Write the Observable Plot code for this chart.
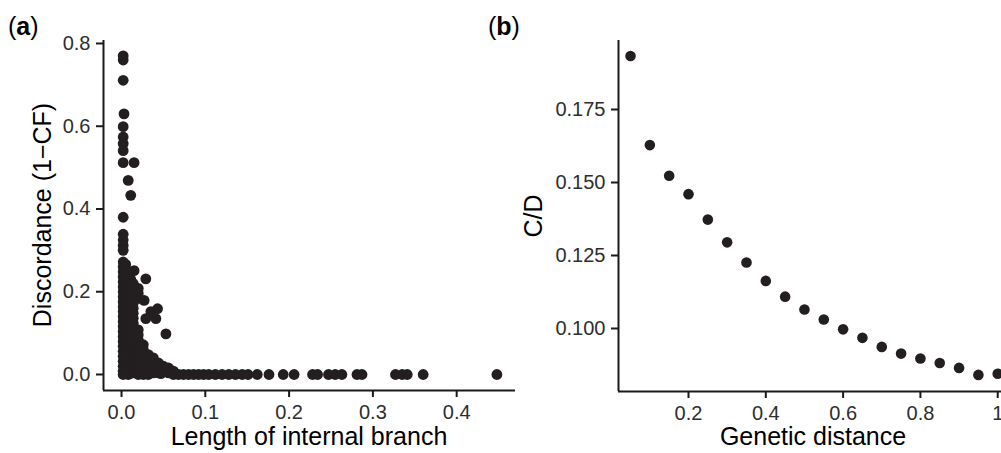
<!DOCTYPE html>
<html>
<head>
<meta charset="utf-8">
<script src="https://cdn.jsdelivr.net/npm/d3@7"></script>
<script src="https://cdn.jsdelivr.net/npm/@observablehq/plot@0.6"></script>
<style>
  html, body { margin: 0; padding: 0; background: #fff; overflow: hidden; }
  #wrap { position: relative; width: 1001px; height: 453px; overflow: hidden; font-family: 'Liberation Sans', Arial, sans-serif; color: #000; }
  .panel { position: absolute; top: 0; }
  .title { position: absolute; font-size: 25px; white-space: nowrap; line-height: 1; }
  .tag { position: absolute; font-size: 25px; line-height: 1; }
</style>
</head>
<body>
<div id="wrap"></div>
<script>
// ---------- Panel (a): discordance vs internal branch length ----------
const branchDiscordance = [
  [0.002,0.770],[0.002,0.760],[0.002,0.711],[0.003,0.630],[0.002,0.599],[0.002,0.574],[0.002,0.558],[0.002,0.541],
  [0.002,0.512],[0.015,0.512],[0.008,0.469],[0.011,0.433],[0.002,0.380],[0.002,0.339],[0.002,0.325],[0.002,0.312],[0.002,0.300],
  [0.002,0.272],[0.002,0.260],[0.002,0.248],[0.002,0.236],[0.002,0.224],[0.002,0.212],[0.002,0.200],[0.002,0.188],
  [0.002,0.176],[0.002,0.164],[0.002,0.152],[0.002,0.140],[0.002,0.128],[0.002,0.116],[0.002,0.104],[0.002,0.092],
  [0.002,0.080],[0.002,0.068],[0.002,0.056],[0.002,0.044],[0.002,0.032],[0.002,0.020],[0.002,0.008],[0.002,0.000],
  [0.005,0.266],[0.005,0.254],[0.005,0.242],[0.005,0.230],[0.005,0.218],[0.005,0.206],[0.005,0.194],[0.005,0.182],
  [0.005,0.170],[0.005,0.158],[0.005,0.146],[0.005,0.134],[0.005,0.122],[0.005,0.110],[0.005,0.098],[0.005,0.086],
  [0.005,0.074],[0.005,0.062],[0.005,0.050],[0.005,0.038],[0.005,0.026],[0.005,0.014],[0.005,0.003],
  [0.008,0.248],[0.008,0.236],[0.008,0.224],[0.008,0.212],[0.008,0.200],[0.008,0.188],[0.008,0.176],[0.008,0.164],
  [0.008,0.152],[0.008,0.140],[0.008,0.128],[0.008,0.116],[0.008,0.104],[0.008,0.092],[0.008,0.080],[0.008,0.068],
  [0.008,0.056],[0.008,0.044],[0.008,0.032],[0.008,0.020],[0.008,0.008],[0.008,0.000],
  [0.011,0.230],[0.011,0.218],[0.011,0.206],[0.011,0.194],[0.011,0.182],[0.011,0.170],[0.011,0.158],[0.011,0.146],
  [0.011,0.134],[0.011,0.122],[0.011,0.110],[0.011,0.098],[0.011,0.086],[0.011,0.074],[0.011,0.062],[0.011,0.050],
  [0.011,0.038],[0.011,0.026],[0.011,0.014],[0.011,0.003],
  [0.015,0.251],[0.014,0.220],[0.014,0.208],[0.014,0.196],[0.014,0.184],[0.014,0.172],[0.014,0.160],[0.014,0.148],
  [0.014,0.136],[0.014,0.124],[0.014,0.112],[0.014,0.100],[0.014,0.088],[0.014,0.076],[0.014,0.064],[0.014,0.052],
  [0.014,0.040],[0.014,0.028],[0.014,0.016],[0.014,0.004],
  [0.017,0.202],[0.017,0.190],[0.017,0.102],[0.017,0.090],[0.017,0.078],[0.017,0.066],[0.017,0.054],[0.017,0.042],
  [0.017,0.030],[0.017,0.018],[0.017,0.006],
  [0.020,0.208],[0.020,0.196],[0.020,0.184],
  [0.020,0.108],[0.020,0.096],[0.020,0.084],[0.020,0.072],[0.020,0.060],[0.020,0.048],[0.020,0.036],[0.020,0.024],
  [0.020,0.012],[0.020,0.000],
  [0.023,0.066],[0.023,0.054],[0.023,0.042],[0.023,0.030],[0.023,0.018],[0.023,0.006],
  [0.029,0.231],[0.027,0.179],[0.035,0.152],[0.043,0.159],[0.029,0.135],[0.041,0.135],[0.053,0.098],
  [0.026,0.072],[0.026,0.060],[0.026,0.048],[0.026,0.036],[0.026,0.024],[0.026,0.012],[0.026,0.000],
  [0.029,0.042],[0.029,0.030],[0.029,0.018],[0.029,0.006],
  [0.032,0.048],[0.032,0.036],[0.032,0.024],[0.032,0.012],[0.032,0.000],
  [0.035,0.030],[0.035,0.018],[0.035,0.006],
  [0.038,0.040],[0.038,0.028],[0.038,0.016],[0.038,0.004],
  [0.041,0.022],[0.041,0.010],
  [0.044,0.028],[0.044,0.016],[0.044,0.004],
  [0.047,0.012],[0.047,0.002],
  [0.050,0.020],[0.050,0.008],[0.053,0.010],[0.056,0.016],[0.056,0.004],[0.059,0.006],[0.062,0.008],[0.062,0.000],
  [0.068,0.000],[0.074,0.000],[0.080,0.000],[0.086,0.000],[0.092,0.000],[0.098,0.000],[0.104,0.000],
  [0.112,0.000],[0.120,0.000],[0.128,0.000],[0.136,0.000],[0.144,0.000],[0.151,0.000],[0.162,0.000],
  [0.176,0.000],[0.193,0.000],[0.206,0.000],[0.228,0.000],[0.234,0.000],[0.247,0.000],[0.255,0.000],
  [0.263,0.000],[0.281,0.000],[0.287,0.000],[0.327,0.000],[0.335,0.000],[0.341,0.000],[0.360,0.000],[0.448,0.000]
];
const ticksAX = [0, 0.1, 0.2, 0.3, 0.4];
const ticksAY = [0, 0.2, 0.4, 0.6, 0.8];

// ---------- Panel (b): C/D vs genetic distance ----------
const geneticDistance = [0.05,0.10,0.15,0.20,0.25,0.30,0.35,0.40,0.45,0.50,0.55,0.60,0.65,0.70,0.75,0.80,0.85,0.90,0.95,1.00];
const cdRatio = [0.1933,0.1628,0.1523,0.1460,0.1373,0.1295,0.1226,0.1163,0.1109,0.1065,0.1031,0.0997,0.0968,0.0937,0.0914,0.0897,0.0882,0.0865,0.0841,0.0845];
const ticksBX = [0.2, 0.4, 0.6, 0.8, 1];
const ticksBY = [0.100, 0.125, 0.150, 0.175];

const ink = "#231f20";
const axisInk = "#1a1a1a";
const tickText = "#2e2e2e";
const font = "'Liberation Sans', Arial, sans-serif";

const wrap = document.getElementById("wrap");

const xDomA = [-0.0215, 0.4702], yDomA = [-0.0387, 0.8072];
const plotA = Plot.plot({
  width: 530, height: 453,
  marginLeft: 103, marginRight: 15, marginTop: 40, marginBottom: 63,
  style: { fontFamily: font, background: "transparent", overflow: "visible" },
  x: { domain: xDomA, label: null },
  y: { domain: yDomA, label: null },
  marks: [
    Plot.dot(branchDiscordance, { x: d => d[0], y: d => d[1], r: 5.4, fill: ink, stroke: "none" }),
    Plot.ruleX([xDomA[0]], { stroke: axisInk, strokeWidth: 2 }),
    Plot.ruleY([yDomA[0]], { stroke: axisInk, strokeWidth: 2 }),
    Plot.axisX({ ticks: ticksAX, tickFormat: d3.format(".1f"), tickSize: 7, tickPadding: 7, fontSize: 20, stroke: axisInk, strokeWidth: 2, fill: tickText, label: null }),
    Plot.axisY({ ticks: ticksAY, tickFormat: d3.format(".1f"), tickSize: 7, tickPadding: 6, fontSize: 20, stroke: axisInk, strokeWidth: 2, fill: tickText, label: null })
  ]
});
plotA.classList.add("panel");
plotA.style.left = "0px";
wrap.appendChild(plotA);

const xDomB = [0.0189, 1.0486], yDomB = [0.07842, 0.19863];
const plotB = Plot.plot({
  width: 600, height: 453,
  marginLeft: 118, marginRight: 84, marginTop: 40, marginBottom: 62,
  style: { fontFamily: font, background: "transparent", overflow: "visible" },
  x: { domain: xDomB, label: null },
  y: { domain: yDomB, label: null },
  marks: [
    Plot.dot(geneticDistance, { x: d => d, y: (d, i) => cdRatio[i], r: 5.3, fill: ink, stroke: "none" }),
    Plot.ruleX([xDomB[0]], { stroke: axisInk, strokeWidth: 2 }),
    Plot.ruleY([yDomB[0]], { stroke: axisInk, strokeWidth: 2 }),
    Plot.axisX({ ticks: ticksBX, tickFormat: d => d === 1 ? "1" : d3.format(".1f")(d), tickSize: 7, tickPadding: 7, fontSize: 20, stroke: axisInk, strokeWidth: 2, fill: tickText, label: null }),
    Plot.axisY({ ticks: ticksBY, tickFormat: d3.format(".3f"), tickSize: 7, tickPadding: 6, fontSize: 20, stroke: axisInk, strokeWidth: 2, fill: tickText, label: null })
  ]
});
plotB.classList.add("panel");
plotB.style.left = "500px";
wrap.appendChild(plotB);

function addText(cls, html, css) {
  const el = document.createElement("div");
  el.className = cls;
  el.innerHTML = html;
  Object.assign(el.style, css);
  wrap.appendChild(el);
  return el;
}
// axis titles
addText("title", "Length of internal branch", { left: "309px", top: "424px", transform: "translateX(-50%)" });
addText("title", "Genetic distance", { left: "813px", top: "424px", transform: "translateX(-50%)" });
addText("title", "Discordance (1\u2212CF)", { left: "42px", top: "215px", transform: "translate(-50%,-50%) rotate(-90deg)" });
addText("title", "C/D", { left: "533px", top: "216px", transform: "translate(-50%,-50%) rotate(-90deg)" });
// panel tags
addText("tag", "(<b>a</b>)", { left: "8px", top: "14px" });
addText("tag", "(<b>b</b>)", { left: "488px", top: "14px" });
</script>
</body>
</html>
